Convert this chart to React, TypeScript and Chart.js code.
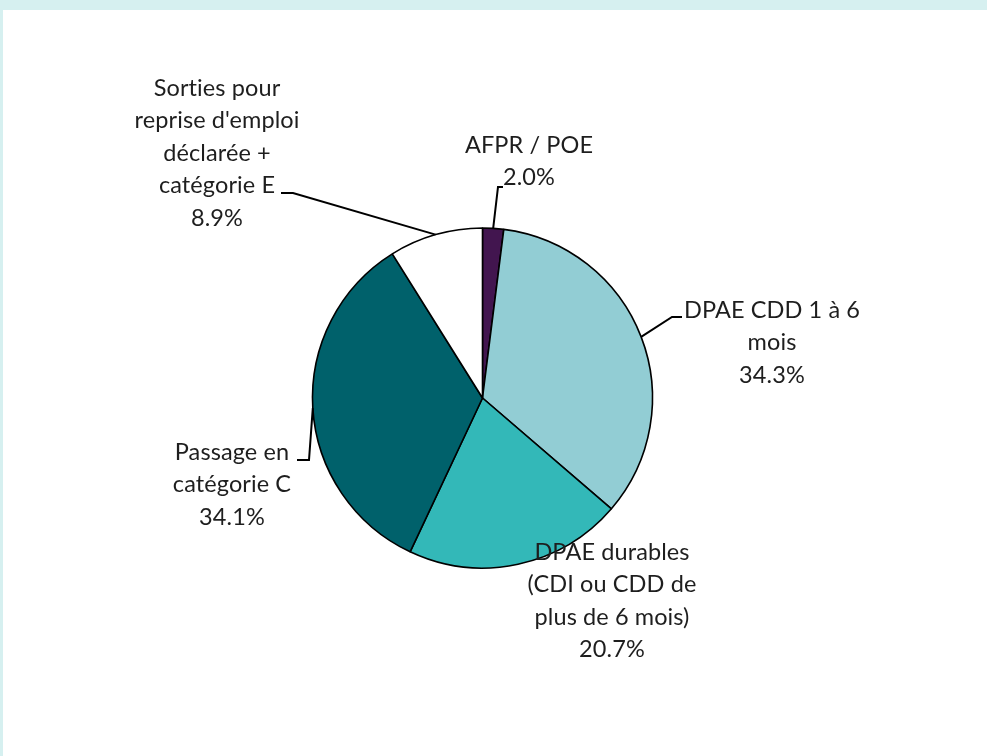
import React, { useEffect, useRef } from 'react';
import { Chart, registerables } from 'chart.js';

Chart.register(...registerables);

const categories = [
  'AFPR / POE',
  'DPAE CDD 1 à 6 mois',
  'DPAE durables (CDI ou CDD de plus de 6 mois)',
  'Passage en catégorie C',
  "Sorties pour reprise d'emploi déclarée + catégorie E",
];
const values = [2.0, 34.3, 20.7, 34.1, 8.9];
const labelLines = [
  ['AFPR / POE'],
  ['DPAE CDD 1 à 6', 'mois'],
  ['DPAE durables', '(CDI ou CDD de', 'plus de 6 mois)'],
  ['Passage en', 'catégorie C'],
  ['Sorties pour', "reprise d'emploi", 'déclarée +', 'catégorie E'],
];
const colors = ['#42154F', '#92CDD4', '#33B8B8', '#00616B', '#FFFFFF'];

// label placement relative to pie centre (pixels)
const labelPlacement = [
  { x: 46.5, y: -253, elbow: [15.5, -211], end: [20.5, -211] },
  { x: 289.5, y: -88, elbow: [189.5, -81], end: [199.5, -81] },
  { x: 129.5, y: 154, elbow: null, end: null },
  { x: -250.5, y: 54, elbow: [-173.5, 62], end: [-185.5, 62] },
  { x: -265.5, y: -310, elbow: [-189.5, -205], end: [-201.5, -205] },
];

const FONT = '23.5px Lato';
const LINE_H = 32.5;

const labelPlugin = {
  id: 'pieLabels',
  afterDraw(chart: any) {
    const ctx = chart.ctx;
    const meta = chart.getDatasetMeta(0);
    ctx.save();
    meta.data.forEach((arc: any, i: number) => {
      const p = labelPlacement[i];
      const cx = arc.x;
      const cy = arc.y;
      if (p.elbow && p.end) {
        const mid = (arc.startAngle + arc.endAngle) / 2;
        const sx = cx + Math.cos(mid) * arc.outerRadius;
        const sy = cy + Math.sin(mid) * arc.outerRadius;
        ctx.beginPath();
        ctx.moveTo(sx, sy);
        ctx.lineTo(cx + p.elbow[0], cy + p.elbow[1]);
        ctx.lineTo(cx + p.end[0], cy + p.end[1]);
        ctx.strokeStyle = '#000';
        ctx.lineWidth = 2;
        ctx.stroke();
      }
      const lines = [...labelLines[i], values[i].toFixed(1) + '%'];
      ctx.font = FONT;
      try {
        (ctx as any).letterSpacing = '0.1px';
      } catch (e) {}
      ctx.fillStyle = '#1e1e1e';
      ctx.textAlign = 'center';
      ctx.textBaseline = 'middle';
      lines.forEach((t, k) => {
        ctx.fillText(t, cx + p.x, cy + p.y + k * LINE_H);
      });
    });
    ctx.restore();
  },
};

export default function App() {
  const ref = useRef<HTMLCanvasElement | null>(null);
  useEffect(() => {
    if (!ref.current) return;
    const chart = new Chart(ref.current, {
      type: 'pie',
      data: {
        labels: categories,
        datasets: [
          {
            data: values,
            backgroundColor: colors,
            borderColor: '#000',
            borderWidth: 1.6,
          },
        ],
      },
      options: {
        responsive: false,
        animation: false,
        radius: 170,
        layout: { padding: { left: 279.5, right: 304.5, top: 188, bottom: 158 } },
        plugins: {
          legend: { display: false },
          tooltip: { enabled: false },
        },
      } as any,
      plugins: [labelPlugin],
    });
    return () => chart.destroy();
  }, []);
  return (
    <div
      style={{
        position: 'fixed',
        left: 0,
        top: 0,
        width: 987,
        height: 756,
        background: '#D6F0F0',
      }}
    >
      <div
        style={{
          position: 'absolute',
          left: 3,
          top: 10,
          width: 984,
          height: 746,
          background: '#FFFFFF',
        }}
      >
        <canvas ref={ref} width={984} height={746} style={{ display: 'block' }} />
      </div>
    </div>
  );
}
